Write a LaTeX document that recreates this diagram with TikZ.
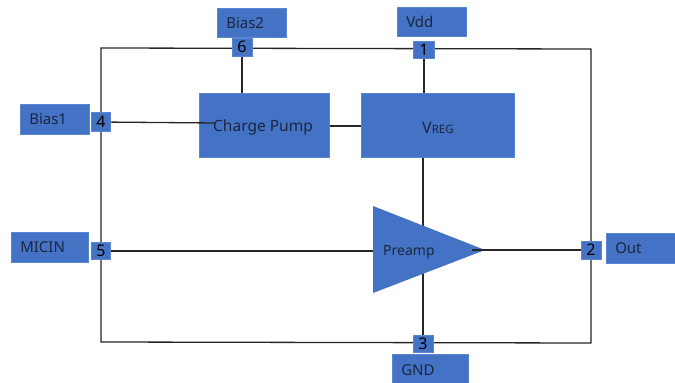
\documentclass[tikz,border=0pt]{standalone}
\usepackage{fontspec}
\setmainfont{Noto Sans}
\definecolor{blk}{HTML}{4472C4}
\definecolor{blkline}{HTML}{5A86CF}
\definecolor{txt}{HTML}{1B2740}
\definecolor{wire}{HTML}{262626}
\tikzset{
  lab/.style={fill=blk, draw=blkline, line width=0.5pt, anchor=north west, inner xsep=9pt, inner ysep=0pt,
     align=left, text=txt, font=\fontsize{15}{17}\selectfont},
  pinbox/.style={fill=blk, draw=blkline, line width=0.6pt, inner sep=0pt, text=black,
     font=\fontsize{16}{17}\selectfont},
  block/.style={fill=blk, draw=blkline, line width=0.5pt, anchor=north west, inner sep=0pt, text=txt,
     font=\fontsize{15}{18}\selectfont},
  wireln/.style={draw=wire, line width=1.3pt}
}
\begin{document}
\begin{tikzpicture}[x=1pt,y=-1pt]
\fill[white] (0,0) rectangle (675,383);
\useasboundingbox (0,0) rectangle (675,383);

% corner coordinates of frame
\coordinate (tl) at (101,48);
\coordinate (tr) at (591,49);
\coordinate (bl) at (101,342);
\coordinate (br) at (591,343);

% blocks
\node[block, minimum width=130, minimum height=64] (cp) at (199,93) {};
\node[block, minimum width=153, minimum height=64] (vreg) at (361,93) {};

% pins (positions)
\coordinate (p6c) at (242,47);
\coordinate (p1c) at (424,49);
\coordinate (p4c) at (101,122);
\coordinate (p5c) at (101,251);
\coordinate (p2c) at (591,250);
\coordinate (p3c) at (423,343);

% triangle points
\coordinate (ta) at (373,206);
\coordinate (tb) at (373,293);
\coordinate (tt) at (485,250);
\coordinate (cpin) at (215,123);
\coordinate (tin) at (373,251);
\coordinate (tstub) at (472,250);

% frame wires
\draw[wireln] (tl) -- (tr) -- (br) -- (bl) -- cycle;
% internal wires
\draw[wireln] (p6c) -- (cp.north -| p6c);
\draw[wireln] (p1c) -- (vreg.north -| p1c);
\draw[wireln] (cp.east |- 0,126) -- (vreg.west |- 0,126);
\draw[wireln] (vreg.south -| 423,0) -- (p3c);
\draw[wireln] (p5c) -- (tin);

% triangle
\fill[blk] (ta) -- (tt) -- (tb) -- cycle;
\node[anchor=west, text=txt, font=\fontsize{14}{17}\selectfont, inner sep=0pt] (pre) at (383,252) {Preamp};
\draw[wireln] (tstub) -- (p2c);

% charge pump / vreg text
\node[text=txt, font=\fontsize{15.5}{18}\selectfont, inner sep=0pt, anchor=west] (cpt) at (213,127) {Charge Pump};
\node[text=txt, inner sep=0pt] (vt) at (438,128) {\fontsize{16}{18}\selectfont V\fontsize{11.5}{14}\selectfont REG};
\draw[wireln] (p4c) -- (cpin);

% pins
\node[pinbox, minimum width=20, minimum height=18] (p6) at (p6c) {6};
\node[pinbox, minimum width=21, minimum height=17] (p1) at (424,49.5) {1};
\node[pinbox, minimum width=19, minimum height=19] (p4) at (p4c) {4};
\node[pinbox, minimum width=19, minimum height=17] (p5) at (101,250.5) {5};
\node[pinbox, minimum width=20, minimum height=18] (p2) at (p2c) {2};
\node[pinbox, minimum width=20, minimum height=17] (p3) at (423,343.5) {3};

% labels
\node[lab, minimum width=69, minimum height=29, text width=51] (bias2) at (217,8) {Bias2};
\node[lab, minimum width=69, minimum height=29, text width=51] (vdd) at (397,7) {Vdd};
\node[lab, minimum width=69, minimum height=30, text width=51] (bias1) at (20,104) {Bias1};
\node[lab, minimum width=77, minimum height=30, text width=59] (micin) at (11,232) {MICIN};
\node[lab, minimum width=70, minimum height=30, text width=52] (out) at (606,233) {Out};
\node[lab, minimum width=76, minimum height=32, text width=58] (gnd) at (392,354) {GND};
\end{tikzpicture}
\end{document}
